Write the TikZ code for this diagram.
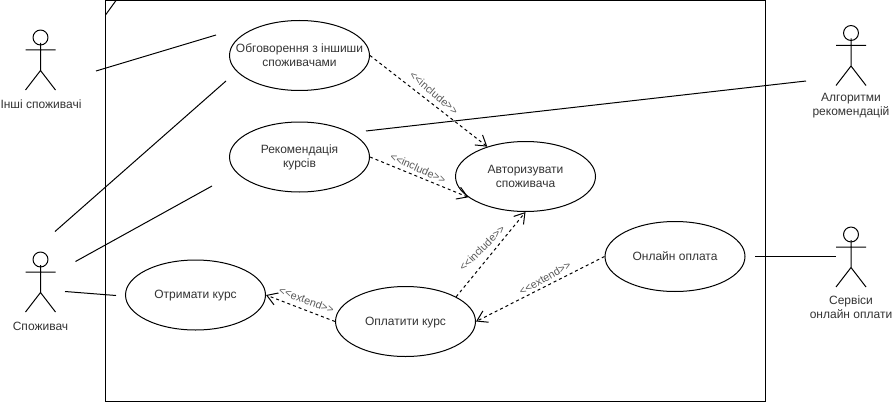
\documentclass[tikz,border=0pt]{standalone}
\usepackage{fontspec}
\setmainfont{Liberation Sans}
\usetikzlibrary{arrows.meta,shapes.geometric}
\newcommand{\casetext}[1]{\raisebox{-0.75pt}[\height][\depth]{\begin{tabular}{@{}c@{}}#1\end{tabular}}}
\tikzset{
  usecase/.style={draw=black,line width=0.75pt,ellipse,minimum width=105pt,minimum height=52.5pt,inner xsep=-20pt,inner ysep=0pt,font=\fontsize{9}{10.5}\selectfont,text=black!80},
  actorlabel/.style={align=center,font=\fontsize{9}{10.5}\selectfont,text=black!80,inner sep=0pt},
  assoc/.style={draw=black,line width=0.75pt},
  dep/.style={draw=black,line width=0.75pt,dash pattern=on 2.25pt off 2.25pt,-{Straight Barb[length=7.5pt,width=9.5pt,line width=0.75pt]}},
  deplabel/.style={font=\fontsize{8.1}{9}\selectfont,text=black!65,inner sep=0pt},
  pics/stickman/.style={code={
    \draw[line width=0.75pt] (0,-12.5) circle[radius=5.6pt];
    \draw[line width=0.75pt] (0,-7) -- (0,20.5) (-15,0) -- (15,0) (-15,40) -- (0,20.5) -- (15,40);
  }}
}
\begin{document}
\begin{tikzpicture}[x=0.75pt,y=-0.75pt]
\useasboundingbox (0,0) rectangle (892,403);
\coordinate (framenw) at (105.5,0.5);
\coordinate (framese) at (765.5,401.5);
\coordinate (tabA) at (105.5,15);
\coordinate (tabB) at (116,0.5);
\draw[line width=0.9pt] (framenw) rectangle (framese);
\draw[line width=0.75pt] (tabA) -- (tabB);

\pic at (40.5,50) {stickman};
\pic at (40.5,272) {stickman};
\pic at (851,45.5) {stickman};
\pic at (851,247) {stickman};

\node[actorlabel] (lblOthers) at (41,104) {Інші споживачі};
\node[actorlabel] (lblUser) at (40.5,326) {Споживач};
\node[actorlabel] (lblAlgo) at (851,106) {Алгоритми\\рекомендацій};
\node[actorlabel] (lblPay) at (851,307) {Сервіси\\онлайн оплати};

\node[usecase] (discuss) at (299.5,55.5) {\casetext{Обговорення з іншиши\\споживачами}};
\node[usecase] (recommend) at (299.5,157) {\casetext{Рекомендація\\курсів}};
\node[usecase] (auth) at (525.5,176.5) {\casetext{Авторизувати\\споживача}};
\node[usecase] (receive) at (195.5,295) {\casetext{Отримати курс}};
\node[usecase] (pay) at (405.5,321.5) {\casetext{Оплатити курс}};
\node[usecase] (online) at (675,256.5) {\casetext{Онлайн оплата}};

\coordinate (o1) at (96,71);
\coordinate (o2) at (216,35);
\coordinate (u1) at (55,231.5);
\coordinate (u2) at (226,81);
\coordinate (u3) at (75.5,261.5);
\coordinate (u4) at (212,186);
\coordinate (u5) at (65,291.5);
\coordinate (u6) at (116,295.5);
\coordinate (r1) at (366,131);
\coordinate (r2) at (806,81);
\coordinate (p1) at (755,256.5);
\coordinate (p2) at (836,256.5);
\draw[assoc] (o1) -- (o2);
\draw[assoc] (u1) -- (u2);
\draw[assoc] (u3) -- (u4);
\draw[assoc] (u5) -- (u6);
\draw[assoc] (r1) -- (r2);
\draw[assoc] (p1) -- (p2);

\draw[dep] (discuss.east) -- (auth.142.5);
\draw[dep] (recommend.east) -- (auth.200);
\draw[dep] (pay.26) -- (auth.south);
\draw[dep] (pay.west) -- (receive.east);
\draw[dep] (online.west) -- (pay.east);

\node[deplabel,rotate=-40] (l1) at (434,93) {<{}<include>{}>};
\node[deplabel,rotate=-24] (l2) at (418,168) {<{}<include>{}>};
\node[deplabel,rotate=45] (l3) at (482,248) {<{}<include>{}>};
\node[deplabel,rotate=-20] (l4) at (306.5,300) {<{}<extend>{}>};
\node[deplabel,rotate=30] (l5) at (545,278) {<{}<extend>{}>};
\end{tikzpicture}
\end{document}
